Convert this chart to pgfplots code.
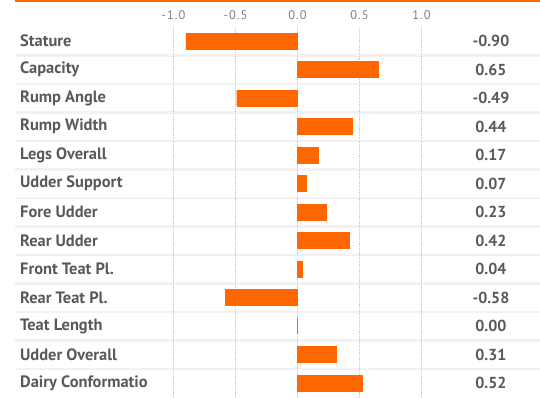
\documentclass[border=0pt]{standalone}
\usepackage{pgfplots}
\pgfplotsset{compat=1.18}
\usepackage{pgfplotstable}
\usepackage{fontspec}
\setmainfont{PT Sans}
\definecolor{barorange}{HTML}{FF6600}
\definecolor{labgray}{HTML}{595959}
\definecolor{tickgray}{HTML}{808080}
\definecolor{sepgray}{HTML}{F2F2F2}
\definecolor{gridgray}{HTML}{C8C8C8}
\pgfplotstableread[col sep=comma]{
row,val,name,lab
0,-0.90,Stature,-0.90
1,0.65,Capacity,0.65
2,-0.49,Rump Angle,-0.49
3,0.44,Rump Width,0.44
4,0.17,Legs Overall,0.17
5,0.07,Udder Support,0.07
6,0.23,Fore Udder,0.23
7,0.42,Rear Udder,0.42
8,0.04,Front Teat Pl.,0.04
9,-0.58,Rear Teat Pl.,-0.58
10,0.00,Teat Length,0.00
11,0.31,Udder Overall,0.31
12,0.52,Dairy Conformatio,0.52
}\data
\pgfplotstableread[col sep=comma]{
x,y,lab
-1,-0.912,-1.0
-0.5,-0.912,-0.5
0,-0.912,0.0
0.5,-0.912,0.5
1,-0.912,1.0
}\ticks
\begin{document}
\begin{tikzpicture}
\begin{axis}[
  scale only axis, width=540bp, height=398bp,
  xmin=-2.399, xmax=1.956,
  ymin=-1.4386, ymax=12.526, y dir=reverse,
  hide axis, clip=false,
]
% row separators
\pgfplotsinvokeforeach{0,...,11}{
  \addplot[sepgray, line width=2.5bp, forget plot] coordinates {(-2.278,#1+0.5) (1.956,#1+0.5)};
}
% gridlines
\pgfplotsinvokeforeach{-1,-0.5,0,0.5,1}{
  \addplot[gridgray, densely dotted, line width=0.8bp, forget plot] coordinates {(#1,-0.49) (#1,12.526)};
}
% top orange line
\addplot[barorange, line width=2bp] coordinates {(-2.278,-1.404) (1.956,-1.404)};
% bars
\addplot[xbar, bar width=16bp, fill=barorange, draw=barorange, line width=0.3bp] table[x=val, y=row] {\data};
% left labels
\addplot[draw=none, mark=none, point meta=explicit symbolic,
  nodes near coords, nodes near coords style={anchor=west, inner sep=0pt, text=labgray, font=\fontsize{16.5}{19}\selectfont\bfseries}]
  table[x expr=-2.238, y=row, meta=name] {\data};
% right values
\addplot[draw=none, mark=none, point meta=explicit symbolic,
  nodes near coords, nodes near coords style={anchor=center, inner sep=0pt, text=labgray, font=\fontsize{16}{19}\selectfont\bfseries}]
  table[x expr=1.56, y=row, meta=lab] {\data};
% top tick labels
\addplot[draw=none, mark=none, point meta=explicit symbolic,
  nodes near coords, nodes near coords style={anchor=center, inner sep=0pt, text=tickgray, font=\fontsize{12.5}{14}\selectfont\addfontfeatures{LetterSpace=8}}]
  table[x=x, y=y, meta=lab] {\ticks};
\end{axis}
\pgfresetboundingbox
\path[use as bounding box] (current axis.south west) rectangle (current axis.north east);
\end{tikzpicture}
\end{document}
